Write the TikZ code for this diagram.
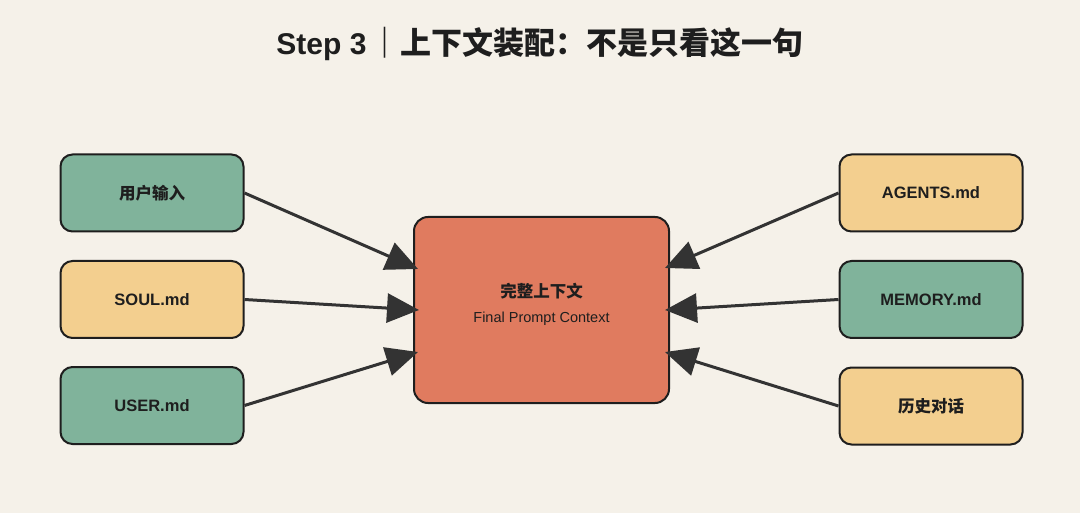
\documentclass[tikz,border=0pt]{standalone}
\usepackage{fontspec}
\setmainfont{Liberation Sans}
\newfontfamily\cjk{Noto Sans CJK SC}
\usetikzlibrary{arrows.meta}
\definecolor{bgc}{HTML}{F5F1E9}
\definecolor{greenc}{HTML}{80B39B}
\definecolor{yellowc}{HTML}{F3CF8F}
\definecolor{redc}{HTML}{E07B5F}
\definecolor{ink}{HTML}{1E1E1E}
\definecolor{arrc}{HTML}{333333}
\begin{document}
\begin{tikzpicture}[x=1pt,y=-1pt,
  box/.style={draw=ink, line width=2pt, rounded corners=12pt, minimum width=183pt, minimum height=77pt, inner sep=0pt, font=\fontsize{16.5}{20}\selectfont\bfseries, text=ink},
  gbox/.style={box, fill=greenc},
  ybox/.style={box, fill=yellowc},
  arr/.style={draw=arrc, line width=3pt, -{Triangle[length=32pt,width=29pt]}}
]
\fill[bgc] (0,0) rectangle (1080,513);
\useasboundingbox (0,0) rectangle (1080,513);

\node[text=ink, font=\fontsize{30}{36}\selectfont\bfseries] (title) at (540,44) {Step 3\hspace{3pt}{\cjk\fontsize{31}{36}\selectfont ｜上下文装配：不是只看这一句}};

\node[gbox] (l1) at (152,193) {\cjk 用户输入};
\node[ybox] (l2) at (152,299.5) {SOUL.md};
\node[gbox] (l3) at (152,405.5) {USER.md};

\node[ybox] (r1) at (931,193) {AGENTS.md};
\node[gbox] (r2) at (931,299.5) {MEMORY.md};
\node[ybox] (r3) at (931,406) {\cjk 历史对话};

\node[draw=ink, line width=2pt, rounded corners=14pt, fill=redc, minimum width=255pt, minimum height=186pt, inner sep=0pt] (c) at (541.5,310) {};
\node[text=ink, font=\fontsize{16.5}{20}\selectfont\bfseries\cjk] (ct) at (541.5,291) {完整上下文};
\node[text=ink, font=\fontsize{14.5}{18}\selectfont] (cs) at (541.5,319) {Final Prompt Context};

\coordinate (t1) at (418,269);
\coordinate (t2) at (419,310);
\coordinate (t3) at (418,352);
\coordinate (t4) at (665,268);
\coordinate (t5) at (665,310);
\coordinate (t6) at (665,352);

\draw[arr] (l1.east) -- (t1);
\draw[arr] (l2.east) -- (t2);
\draw[arr] (l3.east) -- (t3);
\draw[arr] (r1.west) -- (t4);
\draw[arr] (r2.west) -- (t5);
\draw[arr] (r3.west) -- (t6);
\end{tikzpicture}
\end{document}
